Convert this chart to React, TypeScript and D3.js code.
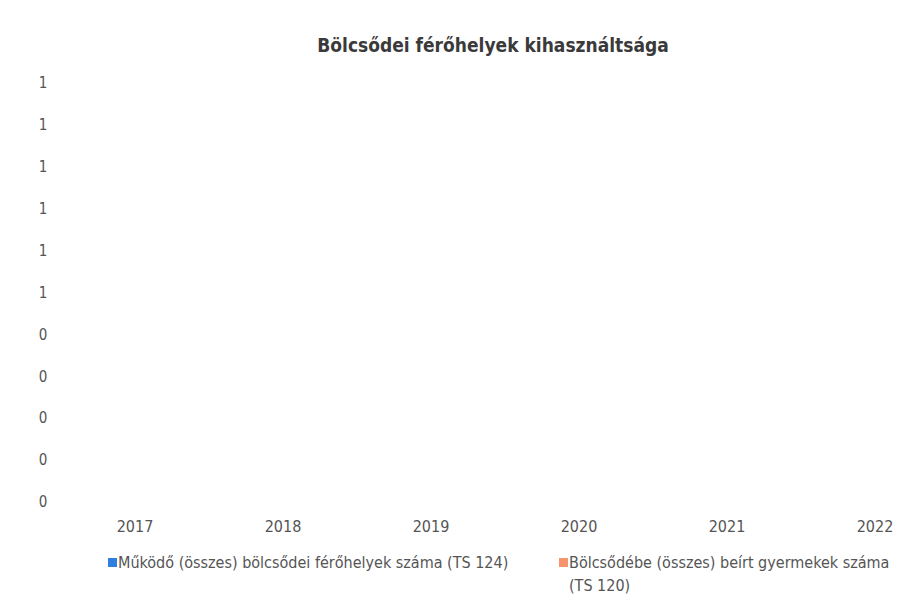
import React from "react";
import * as d3 from "d3";

// adatok (a grafikonon nincsenek látható értékek)
const years = ["2017", "2018", "2019", "2020", "2021", "2022"];
const ferohelyek: (number | null)[] = [null, null, null, null, null, null];
const beirtGyermekek: (number | null)[] = [null, null, null, null, null, null];
const yTicks = [0, 0.1, 0.2, 0.3, 0.4, 0.5, 0.6, 0.7, 0.8, 0.9, 1];

const seriesNames = [
  "Működő (összes) bölcsődei férőhelyek száma (TS 124)",
  "Bölcsődébe (összes) beírt gyermekek száma",
];
const seriesColors = ["#2e7fe0", "#f7946c"];

const W = 898;
const H = 595;
const FONT = "'Liberation Sans Narrow', 'DejaVu Sans Condensed', 'Open Sans', sans-serif";

const App = () => {
  const x = d3.scalePoint<string>().domain(years).range([135, 875]);
  const y = d3.scaleLinear().domain([0, 1]).range([502, 83]);
  const fmt = (v: number) => String(Math.round(v));

  const series = [ferohelyek, beirtGyermekek];

  return (
    <svg
      width={W}
      height={H}
      style={{ position: "absolute", left: 0, top: 0, background: "#fff" }}
      fontFamily={FONT}
    >
      <text
        x={493}
        y={52}
        textAnchor="middle"
        fontSize={19}
        fontWeight="bold"
        fill="#3a3a3a"
      >
        Bölcsődei férőhelyek kihasználtsága
      </text>

      {/* Y tengely feliratai */}
      {yTicks.map((t) => (
        <text
          key={t}
          x={43}
          y={y(t)}
          dy="0.35em"
          textAnchor="middle"
          fontSize={15}
          fill="#555"
        >
          {fmt(t)}
        </text>
      ))}

      {/* X tengely feliratai */}
      {years.map((yr) => (
        <text
          key={yr}
          x={x(yr)}
          y={532}
          textAnchor="middle"
          fontSize={16}
          fill="#555"
        >
          {yr}
        </text>
      ))}

      {/* pontok (üres adatok) */}
      {series.map((s, si) =>
        s.map((v, i) =>
          v == null ? null : (
            <circle key={`${si}-${i}`} cx={x(years[i])} cy={y(v)} r={4} fill={seriesColors[si]} />
          )
        )
      )}

      {/* jelmagyarázat */}
      <rect x={108} y={558} width={9} height={9} fill={seriesColors[0]} />
      <text x={118} y={568} fontSize={16} fill="#555">
        {seriesNames[0]}
      </text>
      <rect x={559} y={558} width={9} height={9} fill={seriesColors[1]} />
      <text x={569} y={568} fontSize={16} fill="#555">
        {seriesNames[1]}
      </text>
      <text x={569} y={591} fontSize={16} fill="#555">
        (TS 120)
      </text>
    </svg>
  );
};

export default App;
